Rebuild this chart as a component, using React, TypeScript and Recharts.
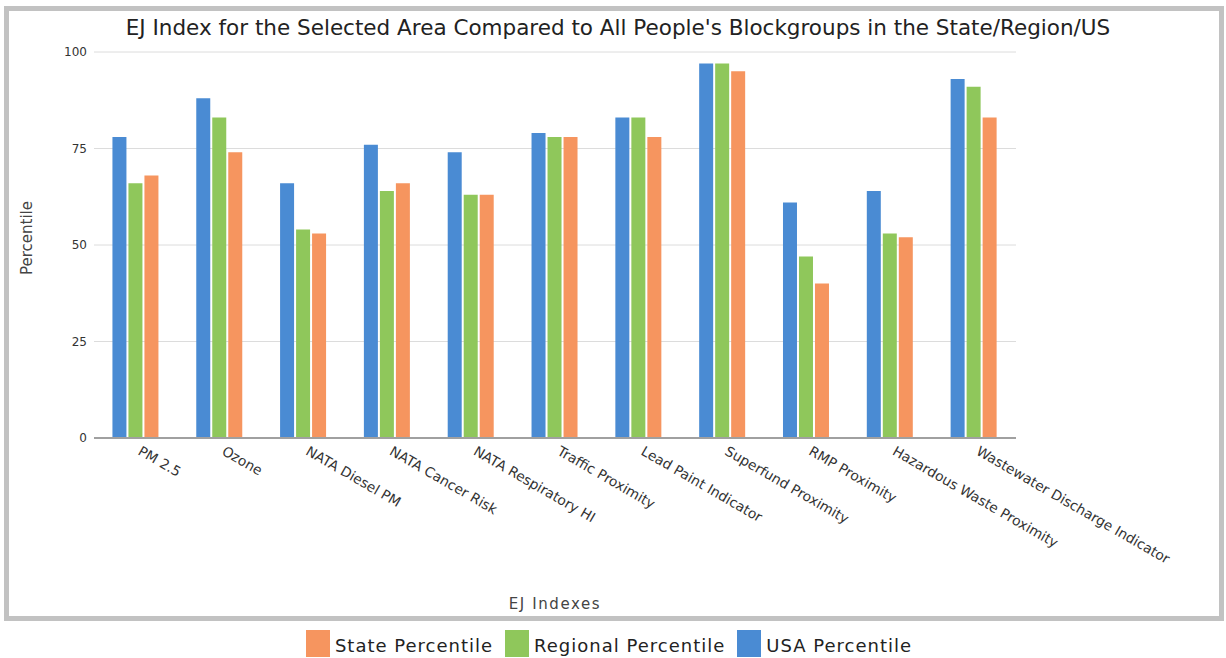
import React from 'react';
import { BarChart, Bar, XAxis, YAxis, CartesianGrid, Legend } from 'recharts';

// values
const indexes = [
  'PM 2.5',
  'Ozone',
  'NATA Diesel PM',
  'NATA Cancer Risk',
  'NATA Respiratory HI',
  'Traffic Proximity',
  'Lead Paint Indicator',
  'Superfund Proximity',
  'RMP Proximity',
  'Hazardous Waste Proximity',
  'Wastewater Discharge Indicator',
];
const usaPercentile = [78, 88, 66, 76, 74, 79, 83, 97, 61, 64, 93];
const regionalPercentile = [66, 83, 54, 64, 63, 78, 83, 97, 47, 53, 91];
const statePercentile = [68, 74, 53, 66, 63, 78, 78, 95, 40, 52, 83];
const yTicks = [0, 25, 50, 75, 100];

const data = indexes.map((name, i) => ({
  name,
  usa: usaPercentile[i],
  regional: regionalPercentile[i],
  state: statePercentile[i],
}));

const BLUE = '#4a8bd3';
const GREEN = '#8fc75b';
const ORANGE = '#f6955f';
const FONT = '"DejaVu Sans", Verdana, sans-serif';

const legendItems = [
  { label: 'State Percentile', color: ORANGE },
  { label: 'Regional Percentile', color: GREEN },
  { label: 'USA Percentile', color: BLUE },
];

const AngledTick = (props: any) => {
  const { x, y, payload } = props;
  return (
    <g transform={`translate(${x},${y})`}>
      <text
        transform="rotate(30)"
        x={6}
        y={8}
        textAnchor="start"
        fontSize={13.8}
        fontFamily={FONT}
        fill="#333"
      >
        {payload.value}
      </text>
    </g>
  );
};

const YLabel = (props: any) => {
  const { viewBox } = props;
  const cx = viewBox.x + 17;
  const cy = viewBox.y + viewBox.height / 2 - 7;
  return (
    <text
      x={cx}
      y={cy}
      transform={`rotate(-90, ${cx}, ${cy})`}
      textAnchor="middle"
      dominantBaseline="central"
      fontSize={15}
      fontFamily={FONT}
      fill="#444"
    >
      Percentile
    </text>
  );
};

const LegendContent = () => (
  <div style={{ display: 'flex', justifyContent: 'center', fontFamily: FONT, fontSize: 18, letterSpacing: 1, color: '#222' }}>
    {legendItems.map((item) => (
      <div key={item.label} style={{ display: 'flex', alignItems: 'flex-end', marginRight: 12 }}>
        <span style={{ width: 24, height: 27, background: item.color, display: 'inline-block', marginRight: 5 }} />
        <span style={{ lineHeight: '22px' }}>{item.label}</span>
      </div>
    ))}
  </div>
);

const App: React.FC = () => {
  return (
    <div style={{ position: 'absolute', left: 0, top: 0, width: 1226, height: 658, background: '#fff' }}>
      <div
        style={{
          position: 'absolute',
          left: 4,
          top: 6,
          width: 1220,
          height: 615,
          border: '5px solid #c2c2c2',
          boxSizing: 'border-box',
        }}
      />
      <div
        style={{
          position: 'absolute',
          left: 0,
          top: 15,
          width: 1236,
          textAlign: 'center',
          fontFamily: FONT,
          fontSize: 21.5,
          color: '#222',
        }}
      >
        EJ Index for the Selected Area Compared to All People's Blockgroups in the State/Region/US
      </div>
      <BarChart
        width={1226}
        height={658}
        data={data}
        margin={{ top: 52, right: 210, left: 10, bottom: 48 }}
        barCategoryGap="22%"
        barGap={2}
      >
        <CartesianGrid vertical={false} stroke="#dcdcdc" />
        <XAxis
          dataKey="name"
          interval={0}
          height={172}
          tick={<AngledTick />}
          tickLine={false}
          tickSize={0}
          tickMargin={6}
          axisLine={{ stroke: '#a0a0a0', strokeWidth: 2 }}
          label={{
            value: 'EJ Indexes',
            position: 'insideBottom',
            offset: 1,
            fontSize: 15,
            letterSpacing: 1.6,
            fontFamily: FONT,
            fill: '#444',
          }}
        />
        <YAxis
          width={84}
          domain={[0, 100]}
          ticks={yTicks}
          axisLine={false}
          tickLine={false}
          tickSize={0}
          tickMargin={7}
          tick={{ fontSize: 12, fontFamily: FONT, fill: '#333' }}
          label={{ content: <YLabel /> }}
        />
        <Legend
          verticalAlign="middle"
          layout="horizontal"
          content={<LegendContent />}
          wrapperStyle={{ position: 'absolute', top: 630, left: 2, width: 1226 }}
        />
        <Bar dataKey="usa" name="USA Percentile" fill={BLUE} isAnimationActive={false} />
        <Bar dataKey="regional" name="Regional Percentile" fill={GREEN} isAnimationActive={false} />
        <Bar dataKey="state" name="State Percentile" fill={ORANGE} isAnimationActive={false} />
      </BarChart>
    </div>
  );
};

export default App;
